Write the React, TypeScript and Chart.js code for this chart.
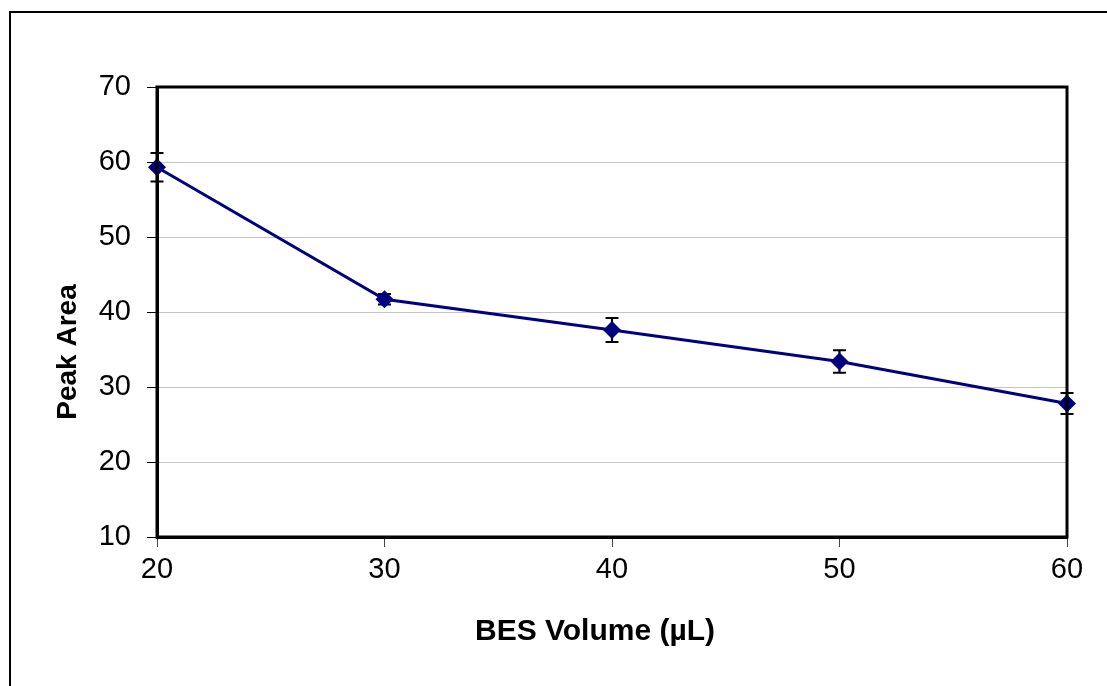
import React, { useEffect, useRef } from "react";
import { Chart, registerables } from "chart.js";

Chart.register(...registerables);

const xValues = [20, 30, 40, 50, 60];
const peakArea = [59.3, 41.7, 37.6, 33.4, 27.8];
const errors = [1.9, 0.7, 1.6, 1.5, 1.4];
const yTicks = [10, 20, 30, 40, 50, 60, 70];
const xTitle = "BES Volume (µL)";
const yTitle = "Peak Area";

const FONT = "'Liberation Sans', Arial, sans-serif";

const framePlugin = {
  id: "framePlugin",
  beforeDraw(chart: any) {
    const ctx = chart.ctx;
    ctx.save();
    ctx.fillStyle = "#ffffff";
    ctx.fillRect(0, 0, chart.width, chart.height);
    ctx.strokeStyle = "#000000";
    ctx.lineWidth = 2;
    ctx.beginPath();
    ctx.moveTo(10, chart.height);
    ctx.lineTo(10, 12);
    ctx.lineTo(chart.width, 12);
    ctx.stroke();
    ctx.restore();
  },
  beforeDatasetsDraw(chart: any) {
    const ctx = chart.ctx;
    const xs = chart.scales.x;
    const ys = chart.scales.y;
    ctx.save();
    ctx.strokeStyle = "#000000";
    ctx.lineWidth = 2.2;
    for (let i = 0; i < xValues.length; i++) {
      const x = xs.getPixelForValue(xValues[i]);
      const yT = ys.getPixelForValue(peakArea[i] + errors[i]);
      const yB = ys.getPixelForValue(peakArea[i] - errors[i]);
      ctx.beginPath();
      ctx.moveTo(x, yT);
      ctx.lineTo(x, yB);
      ctx.moveTo(x - 6.5, yT);
      ctx.lineTo(x + 6.5, yT);
      ctx.moveTo(x - 6.5, yB);
      ctx.lineTo(x + 6.5, yB);
      ctx.stroke();
    }
    ctx.restore();
  },
  afterDraw(chart: any) {
    const ctx = chart.ctx;
    const a = chart.chartArea;
    ctx.save();
    ctx.strokeStyle = "#000000";
    ctx.lineWidth = 3;
    ctx.strokeRect(a.left, a.top, a.right - a.left, a.bottom - a.top);
    ctx.fillStyle = "#000000";
    ctx.textAlign = "center";
    ctx.textBaseline = "middle";
    ctx.font = `bold 30px ${FONT}`;
    ctx.fillText(xTitle, 595, 632);
    ctx.font = `bold 28px ${FONT}`;
    ctx.translate(68, 352);
    ctx.rotate(-Math.PI / 2);
    ctx.fillText(yTitle, 0, 0);
    ctx.restore();
  },
};

export default function App() {
  const ref = useRef<HTMLCanvasElement | null>(null);
  useEffect(() => {
    document.body.style.margin = "0";
    const canvas = ref.current;
    if (!canvas) return;
    const chart = new Chart(canvas, {
      type: "line",
      data: {
        datasets: [
          {
            label: yTitle,
            data: xValues.map((x, i) => ({ x, y: peakArea[i] })),
            borderColor: "#000080",
            backgroundColor: "#000080",
            borderWidth: 3,
            pointStyle: "rectRot",
            pointRadius: 9,
            pointBorderWidth: 0,
            pointBackgroundColor: "#000080",
            tension: 0,
            clip: false as any,
          },
        ],
      },
      options: {
        animation: false,
        responsive: false,
        maintainAspectRatio: false,
        layout: { padding: { top: 87, right: 40, left: 0, bottom: 0 } },
        plugins: {
          legend: { display: false },
          tooltip: { enabled: false },
        },
        scales: {
          x: {
            type: "linear",
            min: 20,
            max: 60,
            afterBuildTicks: (s: any) => {
              s.ticks = xValues.map((v) => ({ value: v }));
            },
            afterFit: (s: any) => {
              s.height = 149;
            },
            ticks: {
              color: "#000000",
              font: { family: FONT, size: 29 },
              padding: 6,
              maxRotation: 0,
            },
            grid: {
              drawOnChartArea: false,
              drawTicks: true,
              tickLength: 10,
              tickColor: "#444444",
              lineWidth: 1,
            },
            border: { display: true, color: "#000000", width: 3 },
          },
          y: {
            type: "linear",
            min: 10,
            max: 70,
            afterBuildTicks: (s: any) => {
              s.ticks = yTicks.map((v) => ({ value: v }));
            },
            afterFit: (s: any) => {
              s.width = 157;
            },
            ticks: {
              color: "#000000",
              font: { family: FONT, size: 29 },
              padding: 16,
            },
            grid: {
              color: "#c4c4c4",
              lineWidth: 1,
              drawTicks: true,
              tickLength: 10,
              tickColor: "#000000",
            },
            border: { display: true, color: "#000000", width: 3 },
          },
        },
      },
      plugins: [framePlugin],
    });
    return () => chart.destroy();
  }, []);
  return (
    <div style={{ width: 1107, height: 686 }}>
      <canvas ref={ref} width={1107} height={686} style={{ display: "block" }} />
    </div>
  );
}
